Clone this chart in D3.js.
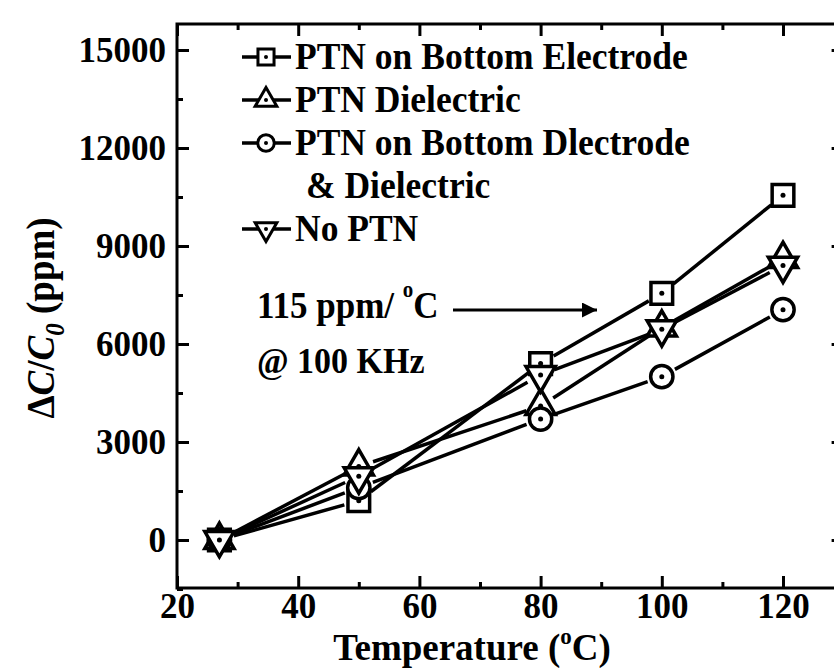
<!DOCTYPE html>
<html lang="en">
<head>
<meta charset="UTF-8">
<title>dC/C0 vs Temperature</title>
<script src="https://d3js.org/d3.v7.min.js"></script>
<style>
  body { margin: 0; background: #fff; }
  svg text { font-family: "Liberation Serif", "Times New Roman", serif; font-weight: bold; fill: #000; }
  .axis line { stroke: #000; stroke-width: 3; }
  .axis path { display: none; }
  .axis text { font-size: 35px; font-family: "Liberation Serif", serif; font-weight: bold; }
</style>
</head>
<body>
<script>
// data
const temperature = [27, 50, 80, 100, 120];
const ptnBottomElectrode = [0, 1200, 5400, 7550, 10550];
const ptnDielectric = [0, 2250, 4100, 6500, 8600];
const ptnBoth = [0, 1600, 3700, 5000, 7050];
const noPtn = [0, 1950, 5050, 6450, 8400];
const xTicks = [20, 40, 60, 80, 100, 120];
const xMinor = [30, 50, 70, 90, 110, 130];
const yTicks = [0, 3000, 6000, 9000, 12000, 15000];
const yMinor = [-1500, 1500, 4500, 7500, 10500, 13500];

const width = 834, height = 668;

const svg = d3.select("body").append("svg")
  .attr("width", width)
  .attr("height", height);

// 20 -> 177, 120 -> 783; right edge falls just outside the picture
const x = d3.scaleLinear().domain([20, 130]).range([177, 843.6]);
const y = d3.scaleLinear().domain([-1470, 15796]).range([588, 24]);

// frame
svg.append("rect")
  .attr("x", x(20)).attr("y", y(15796))
  .attr("width", x(130) - x(20)).attr("height", y(-1470) - y(15796))
  .attr("fill", "none").attr("stroke", "#000").attr("stroke-width", 3);

// axes, ticks pointing inward
svg.append("g").attr("class", "axis")
  .attr("transform", "translate(0," + y(-1470) + ")")
  .call(d3.axisBottom(x).tickValues(xTicks).tickSizeInner(-12).tickSizeOuter(0).tickPadding(5));
svg.append("g").attr("class", "axis")
  .attr("transform", "translate(0," + y(-1470) + ")")
  .call(d3.axisBottom(x).tickValues(xMinor).tickSizeInner(-6).tickSizeOuter(0).tickFormat(""));
svg.append("g").attr("class", "axis")
  .attr("transform", "translate(0," + y(15796) + ")")
  .call(d3.axisTop(x).tickValues(xTicks).tickSizeInner(-12).tickSizeOuter(0).tickFormat(""));
svg.append("g").attr("class", "axis")
  .attr("transform", "translate(0," + y(15796) + ")")
  .call(d3.axisTop(x).tickValues(xMinor).tickSizeInner(-6).tickSizeOuter(0).tickFormat(""));

svg.append("g").attr("class", "axis")
  .attr("transform", "translate(" + x(20) + ",0)")
  .call(d3.axisLeft(y).tickValues(yTicks).tickSizeInner(-12).tickSizeOuter(0).tickPadding(11).tickFormat(d3.format("d")));
svg.append("g").attr("class", "axis")
  .attr("transform", "translate(" + x(20) + ",0)")
  .call(d3.axisLeft(y).tickValues(yMinor).tickSizeInner(-6).tickSizeOuter(0).tickFormat(""));
svg.append("g").attr("class", "axis")
  .attr("transform", "translate(" + x(130) + ",0)")
  .call(d3.axisRight(y).tickValues(yTicks).tickSizeInner(-12).tickSizeOuter(0).tickFormat(""));
svg.append("g").attr("class", "axis")
  .attr("transform", "translate(" + x(130) + ",0)")
  .call(d3.axisRight(y).tickValues(yMinor).tickSizeInner(-6).tickSizeOuter(0).tickFormat(""));

// axis titles
const xTitle = svg.append("text")
  .attr("x", 472).attr("y", 660)
  .attr("text-anchor", "middle")
  .style("font-size", "37px");
xTitle.append("tspan").text("Temperature (");
xTitle.append("tspan").attr("dy", -16).style("font-size", "23px").text("o");
xTitle.append("tspan").attr("dy", 16).text("C)");

const yTitle = svg.append("text")
  .attr("transform", "translate(54,318) rotate(-90) scale(1,1.1)")
  .attr("text-anchor", "middle")
  .style("font-size", "37px");
yTitle.append("tspan").text("\u0394");
yTitle.append("tspan").style("font-style", "italic").text("C");
yTitle.append("tspan").text("/");
yTitle.append("tspan").style("font-style", "italic").text("C");
yTitle.append("tspan").attr("dy", 9).style("font-style", "italic").style("font-size", "25px").text("0");
yTitle.append("tspan").attr("dy", -9).text(" (ppm)");

// series
const series = [
  { name: "PTN on Bottom Electrode", values: ptnBottomElectrode, shape: d3.symbolSquare, size: 470, rot: 0 },
  { name: "PTN Dielectric", values: ptnDielectric, shape: d3.symbolTriangle, size: 370, rot: 0 },
  { name: "PTN on Bottom Dlectrode", values: ptnBoth, shape: d3.symbolCircle, size: 390, rot: 0 },
  { name: "No PTN", values: noPtn, shape: d3.symbolTriangle, size: 370, rot: 180 }
];

const gap = 15;
series.forEach(function (s) {
  const pts = temperature.map(function (t, i) { return [x(t), y(s.values[i])]; });
  for (let i = 0; i < pts.length - 1; i++) {
    const a = pts[i], b = pts[i + 1];
    const dx = b[0] - a[0], dy = b[1] - a[1];
    const len = Math.sqrt(dx * dx + dy * dy);
    const ux = dx / len, uy = dy / len;
    svg.append("line")
      .attr("x1", a[0] + ux * gap).attr("y1", a[1] + uy * gap)
      .attr("x2", b[0] - ux * gap).attr("y2", b[1] - uy * gap)
      .attr("stroke", "#000").attr("stroke-width", 3.5);
  }
});

function drawMarker(g, s, cx, cy) {
  g.append("path")
    .attr("d", d3.symbol().type(s.shape).size(s.size))
    .attr("transform", "translate(" + cx + "," + cy + ") rotate(" + s.rot + ")")
    .attr("fill", "#fff").attr("stroke", "#000").attr("stroke-width", 3.5);
  g.append("circle")
    .attr("cx", cx).attr("cy", cy).attr("r", 2.5).attr("fill", "#000");
}

series.forEach(function (s) {
  const g = svg.append("g");
  temperature.forEach(function (t, i) {
    drawMarker(g, s, x(t), y(s.values[i]));
  });
});

// legend
const legendRows = [57, 100, 143, 229];
const legend = svg.append("g");
series.forEach(function (s, i) {
  const ly = legendRows[i];
  legend.append("line")
    .attr("x1", 242).attr("x2", 291).attr("y1", ly).attr("y2", ly)
    .attr("stroke", "#000").attr("stroke-width", 3.5);
  const g = legend.append("g");
  g.append("path")
    .attr("d", d3.symbol().type(s.shape).size(s.size * 0.55))
    .attr("transform", "translate(266," + ly + ") rotate(" + s.rot + ")")
    .attr("fill", "#fff").attr("stroke", "#000").attr("stroke-width", 3);
  g.append("circle").attr("cx", 266).attr("cy", ly).attr("r", 2).attr("fill", "#000");
  legend.append("text")
    .attr("transform", "translate(295," + (ly + 12) + ") scale(1,1.06)")
    .style("font-size", "35.5px")
    .text(s.name);
});
legend.append("text")
  .attr("transform", "translate(306," + (186 + 12) + ") scale(1,1.06)")
  .style("font-size", "35.5px")
  .text("& Dielectric");

// annotation
const note = svg.append("text")
  .attr("transform", "translate(257,318) scale(1,1.06)")
  .style("font-size", "35px");
note.append("tspan").text("115 ppm/ ");
note.append("tspan").attr("dy", -20).style("font-size", "21px").text("o");
note.append("tspan").attr("dy", 20).text("C");
svg.append("text")
  .attr("transform", "translate(257,373) scale(1,1.06)")
  .style("font-size", "34px").text("@ 100 KHz");

svg.append("defs").append("marker")
  .attr("id", "arrow").attr("viewBox", "0 0 10 10")
  .attr("refX", 10).attr("refY", 5)
  .attr("markerWidth", 8).attr("markerHeight", 5)
  .attr("markerUnits", "strokeWidth")
  .attr("orient", "auto")
  .append("path").attr("d", "M0,0L10,5L0,10z").attr("fill", "#000");
svg.append("line")
  .attr("x1", 453).attr("y1", 310).attr("x2", 597).attr("y2", 310)
  .attr("stroke", "#000").attr("stroke-width", 3)
  .attr("marker-end", "url(#arrow)");
</script>
</body>
</html>
